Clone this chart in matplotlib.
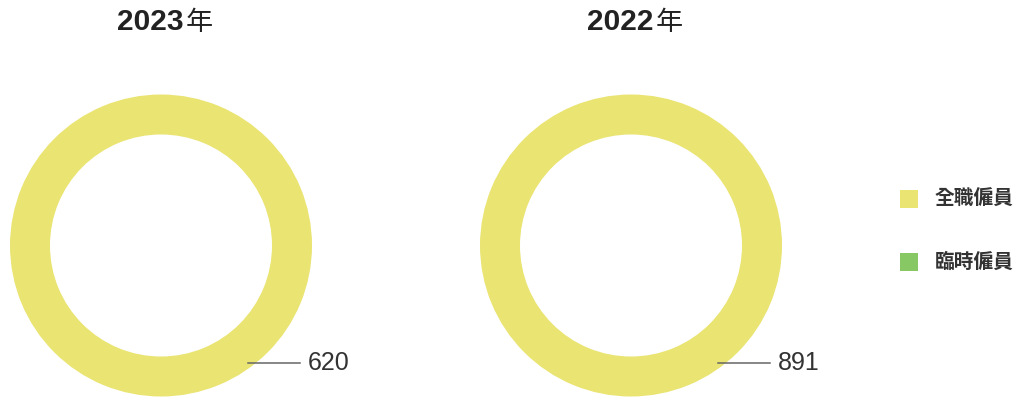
import numpy as np
import matplotlib
matplotlib.use("Agg")
import matplotlib.pyplot as plt
from matplotlib.patches import Rectangle

# data
years = ["2023", "2022"]
categories = ["全職僱員", "臨時僱員"]
full_time = [620, 891]
temporary = [0, 0]
colors = ["#EAE472", "#87C864"]

W, H = 1020, 400
fig = plt.figure(figsize=(W / 100, H / 100), dpi=100)
ax = fig.add_axes([0, 0, 1, 1])

centers = [(161, 245.5), (631, 245.5)]
outer_r = 151
ring_w = 40

for i, (cx, cy) in enumerate(centers):
    y = H - cy
    vals = [full_time[i], temporary[i]]
    ax.pie(vals, colors=colors, radius=outer_r, center=(cx, y),
           startangle=90, counterclock=False,
           wedgeprops=dict(width=ring_w, edgecolor="none"))
    # title: bold digits + regular 年
    ax.text(cx + 23, H - 22, years[i], ha="right", va="center",
            fontsize=21.5, fontweight="bold", color="#222222",
            family="Liberation Sans")
    ax.text(cx + 25, H - 22, "年", ha="left", va="center",
            fontsize=19.5, color="#222222", family="Noto Sans CJK TC")
    # leader line and value label
    x0, y0 = cx + 87, y - 117
    ax.plot([x0, x0 + 52], [y0, y0], color="#666666", lw=1.1)
    ax.text(x0 + 60, y0, str(full_time[i]), ha="left", va="center",
            fontsize=18, color="#333333", family="Liberation Sans")

# legend
for j, cat in enumerate(categories):
    ly = H - (199 + j * 63)
    ax.add_patch(Rectangle((900, ly - 9), 18, 18, color=colors[j], lw=0))
    ax.text(935, ly, cat, ha="left", va="center", fontsize=14.2,
            fontweight="bold", color="#333333", family="Noto Sans CJK TC")

ax.set_xlim(0, W)
ax.set_ylim(0, H)
ax.set_aspect("equal")
ax.axis("off")

fig.savefig("out.png", dpi=100)
